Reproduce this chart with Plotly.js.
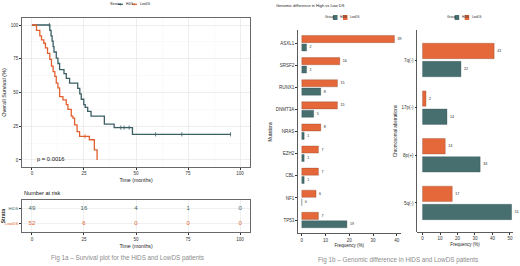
<!DOCTYPE html>
<html><head><meta charset="utf-8">
<script src="https://cdn.plot.ly/plotly-3.0.1.min.js"></script>
<style>html,body{margin:0;padding:0;background:#fff}#chart{width:520px;height:266px}</style>
</head><body><div id="chart"></div>
<script>
// ---- Survival data (Fig 1a) ----
const hidsTime  = [0, 8.6, 9.2, 9.7, 10.2, 10.6, 11.7, 12.5, 13.3, 15.4, 16.5, 18.1, 22.0, 23.0, 23.7, 24.9, 25.6, 26.8, 28.4, 34.8, 39.5, 48.3, 95.4];
const hidsSurv  = [100, 96, 92, 88, 84, 80, 75.5, 71.5, 67, 64, 60.5, 57, 53, 49, 45, 41, 39, 36, 32.5, 26.5, 24, 19, 19];
const lowdsTime = [0, 2.2, 3.8, 4.6, 5.7, 6.5, 7.5, 8.6, 9.4, 10.2, 11.0, 11.7, 12.5, 13.3, 14.9, 16.5, 17.3, 18.9, 19.7, 20.5, 21.7, 22.9, 27.6, 30.0, 31.3];
const lowdsSurv = [100, 96, 92, 89, 86.5, 83, 79, 74.5, 69.5, 65.5, 62, 57, 53.5, 47, 44.5, 41, 37.5, 32.5, 31, 26, 21, 17.5, 15, 7.5, 0];
const hidsCensorTime  = [8.4, 42.7, 44.3, 46.7, 59.4, 72.0, 95.4];
const hidsCensorSurv  = [100, 24, 24, 24, 19, 19, 19];
const lowdsCensorTime = [25.5];
const lowdsCensorSurv = [17.5];
const pValueText = 'p = 0.0016';

// ---- Number at risk ----
const riskTimes  = [0, 25, 50, 75, 100];
const riskHiDS   = [49, 16, 4, 1, 0];
const riskLowDS  = [52, 6, 0, 0, 0];
const strataLabels = ['HiDS', 'LowDS'];

// ---- Genomic difference (Fig 1b) ----
const mutGenes  = ['ASXL1', 'SRSF2', 'RUNX1', 'DNMT3A', 'NRAS', 'EZH2', 'CBL', 'NF1', 'TP53'];
const mutHiDS   = [2, 2, 8, 5, 1, 1, 1, 0, 19];
const mutLowDS  = [39, 16, 15, 15, 8, 7, 7, 6, 7];
const chromAb    = ['7q(-)', '17p(-)', '8p(+)', '5q(-)'];
const chromHiDS  = [22, 14, 33, 51];
const chromLowDS = [41, 2, 13, 17];

// ---- styles ----
const W = 520, H = 266;
const px = x => x / W, py = y => 1 - y / H;
const cHi = '#3b5f63', cLow = '#e2602f';
const barHi = '#476f70', barLow = '#e4683a';
const FONT = 'Liberation Sans, Arial, sans-serif';

const traces = [];
traces.push({x: hidsTime, y: hidsSurv, type: 'scatter', mode: 'lines', line: {shape: 'hv', color: cHi, width: 1.3}, xaxis: 'x', yaxis: 'y', hoverinfo: 'skip'});
traces.push({x: lowdsTime, y: lowdsSurv, type: 'scatter', mode: 'lines', line: {shape: 'hv', color: cLow, width: 1.3}, xaxis: 'x', yaxis: 'y', hoverinfo: 'skip'});
traces.push({x: hidsCensorTime, y: hidsCensorSurv, type: 'scatter', mode: 'markers', marker: {symbol: 'line-ns', size: 3, line: {color: cHi, width: 0.8}}, xaxis: 'x', yaxis: 'y'});
traces.push({x: lowdsCensorTime, y: lowdsCensorSurv, type: 'scatter', mode: 'markers', marker: {symbol: 'line-ns', size: 3, line: {color: cLow, width: 0.8}}, xaxis: 'x', yaxis: 'y'});
// risk table
traces.push({x: riskTimes, y: riskHiDS.map(() => 1), text: riskHiDS.map(String), mode: 'text', type: 'scatter', textfont: {size: 6, color: cHi, family: FONT}, xaxis: 'x2', yaxis: 'y2', cliponaxis: false});
traces.push({x: riskTimes, y: riskLowDS.map(() => 0), text: riskLowDS.map(String), mode: 'text', type: 'scatter', textfont: {size: 6, color: cLow, family: FONT}, xaxis: 'x2', yaxis: 'y2', cliponaxis: false});
// mutation bars (LowDS first -> drawn on top with reversed axis)
const barCommon = {type: 'bar', orientation: 'h', textposition: 'outside', cliponaxis: false, textfont: {size: 3.6, color: '#222', family: FONT}, hoverinfo: 'skip'};
traces.push(Object.assign({}, barCommon, {y: mutGenes, x: mutLowDS, text: mutLowDS.map(String), marker: {color: barLow, line: {color: '#7a3a20', width: 0.3}}, xaxis: 'x3', yaxis: 'y3'}));
traces.push(Object.assign({}, barCommon, {y: mutGenes, x: mutHiDS, text: mutHiDS.map(String), marker: {color: barHi, line: {color: '#2a4446', width: 0.3}}, xaxis: 'x3', yaxis: 'y3'}));
traces.push(Object.assign({}, barCommon, {y: chromAb, x: chromLowDS, text: chromLowDS.map(String), marker: {color: barLow, line: {color: '#7a3a20', width: 0.3}}, xaxis: 'x4', yaxis: 'y4'}));
traces.push(Object.assign({}, barCommon, {y: chromAb, x: chromHiDS, text: chromHiDS.map(String), marker: {color: barHi, line: {color: '#2a4446', width: 0.3}}, xaxis: 'x4', yaxis: 'y4'}));

const tickF = {size: 4.5, color: '#333', family: FONT};
const gridC = '#e6e6e6';

const layout = {
  width: W, height: H, margin: {l: 0, r: 0, t: 0, b: 0},
  paper_bgcolor: '#fff', plot_bgcolor: '#fff', showlegend: false,
  font: {family: FONT, color: '#222'},
  barmode: 'group', bargap: 0.24, bargroupgap: 0.15,
  xaxis: {domain: [px(22), px(250)], range: [-4.76, 104.76], tickvals: [0, 25, 50, 75, 100], ticks: 'outside', ticklen: 2, tickcolor: '#333', tickfont: tickF,
          showgrid: true, gridcolor: gridC, gridwidth: 0.6, minor: {dtick: 12.5, tick0: 0, showgrid: true, gridcolor: '#f2f2f2', gridwidth: 0.4},
          zeroline: false, showline: true, mirror: true, linecolor: '#444', linewidth: 0.8, anchor: 'y',
          title: {text: 'Time (months)', font: {size: 5.2, color: '#222'}, standoff: 3}},
  yaxis: {domain: [py(167), py(18)], range: [-5.2, 105.2], tickvals: [0, 25, 50, 75, 100], ticks: 'outside', ticklen: 2, tickcolor: '#333', tickfont: tickF,
          showgrid: true, gridcolor: gridC, gridwidth: 0.6, minor: {dtick: 12.5, tick0: 0, showgrid: true, gridcolor: '#f2f2f2', gridwidth: 0.4},
          zeroline: false, showline: true, mirror: true, linecolor: '#444', linewidth: 0.8, anchor: 'x',
          title: {text: 'Overall Survival (%)', font: {size: 5.5, color: '#222'}, standoff: 3}},
  xaxis2: {domain: [px(22), px(250)], range: [-4.76, 104.76], tickvals: [0, 25, 50, 75, 100], ticks: 'outside', ticklen: 2, tickcolor: '#333', tickfont: tickF,
          showgrid: true, gridcolor: gridC, gridwidth: 0.6, zeroline: false, showline: true, mirror: true, linecolor: '#444', linewidth: 0.8, anchor: 'y2',
          title: {text: 'Time (months)', font: {size: 5.2, color: '#222'}, standoff: 3}},
  yaxis2: {domain: [py(232.3), py(200)], range: [-0.6, 1.6], tickvals: [0, 1],
          ticktext: ['<span style="color:' + cLow + '">' + strataLabels[1] + '</span>', '<span style="color:' + cHi + '">' + strataLabels[0] + '</span>'],
          ticks: 'outside', ticklen: 2, tickcolor: '#333', tickfont: {size: 4.2, family: FONT},
          showgrid: true, gridcolor: gridC, gridwidth: 0.6, zeroline: false, showline: true, mirror: true, linecolor: '#444', linewidth: 0.8, anchor: 'x2',
          title: {text: '<b>Strata</b>', font: {size: 5, color: '#222'}, standoff: 2}},
  xaxis3: {domain: [px(298), px(400.6)], range: [-1.6, 41.6], tickvals: [0, 10, 20, 30, 40], ticks: 'outside', ticklen: 2, tickcolor: '#333', tickfont: tickF,
          showgrid: false, zeroline: false, showline: true, linecolor: '#333', linewidth: 0.8, anchor: 'y3',
          title: {text: 'Frequency (%)', font: {size: 4.5, color: '#222'}, standoff: 2}},
  yaxis3: {domain: [py(233.3), py(30)], type: 'category', categoryorder: 'array', categoryarray: mutGenes, range: [8.6, -0.6],
          ticks: 'outside', ticklen: 2, tickcolor: '#333', tickfont: tickF, showgrid: false, zeroline: false, showline: true, linecolor: '#333', linewidth: 0.8, anchor: 'x3',
          title: {text: 'Mutations', font: {size: 4.5, color: '#222'}, standoff: 3}},
  xaxis4: {domain: [px(417.3), px(512.5)], range: [-3, 51.5], tickvals: [0, 10, 20, 30, 40, 50], ticks: 'outside', ticklen: 2, tickcolor: '#333', tickfont: tickF,
          showgrid: false, zeroline: false, showline: true, linecolor: '#333', linewidth: 0.8, anchor: 'y4',
          title: {text: 'Frequency (%)', font: {size: 4.5, color: '#222'}, standoff: 2}},
  yaxis4: {domain: [py(232), py(30)], type: 'category', categoryorder: 'array', categoryarray: chromAb, range: [3.61, -0.63],
          ticks: 'outside', ticklen: 2, tickcolor: '#333', tickfont: tickF, showgrid: false, zeroline: false, showline: true, linecolor: '#333', linewidth: 0.8, anchor: 'x4',
          title: {text: 'Chromosomal aberrations', font: {size: 4.5, color: '#222'}, standoff: 3}},
  shapes: [
    // survival legend glyphs
    {type: 'line', xref: 'paper', yref: 'paper', x0: px(118), x1: px(123), y0: py(4.3), y1: py(4.3), line: {color: cHi, width: 1.2}},
    {type: 'line', xref: 'paper', yref: 'paper', x0: px(120.5), x1: px(120.5), y0: py(3), y1: py(5.6), line: {color: cHi, width: 0.6}},
    {type: 'line', xref: 'paper', yref: 'paper', x0: px(132), x1: px(137), y0: py(4.3), y1: py(4.3), line: {color: cLow, width: 1.2}},
    {type: 'line', xref: 'paper', yref: 'paper', x0: px(134.5), x1: px(134.5), y0: py(3), y1: py(5.6), line: {color: cLow, width: 0.6}},
    // bar legends
    {type: 'rect', xref: 'paper', yref: 'paper', x0: px(333), x1: px(337.5), y0: py(15), y1: py(20), fillcolor: barHi, line: {width: 0}},
    {type: 'rect', xref: 'paper', yref: 'paper', x0: px(343), x1: px(347.5), y0: py(15), y1: py(20), fillcolor: barLow, line: {width: 0}},
    {type: 'rect', xref: 'paper', yref: 'paper', x0: px(454.7), x1: px(459.2), y0: py(15), y1: py(20), fillcolor: barHi, line: {width: 0}},
    {type: 'rect', xref: 'paper', yref: 'paper', x0: px(464.7), x1: px(469.2), y0: py(15), y1: py(20), fillcolor: barLow, line: {width: 0}}
  ],
  annotations: [
    {xref: 'paper', yref: 'paper', x: px(107.5), y: py(4.3), text: 'Strata', showarrow: false, xanchor: 'left', yanchor: 'middle', font: {size: 3.7, color: '#222'}},
    {xref: 'paper', yref: 'paper', x: px(123.8), y: py(4.3), text: 'HiDS', showarrow: false, xanchor: 'left', yanchor: 'middle', font: {size: 3.1, color: '#222'}},
    {xref: 'paper', yref: 'paper', x: px(137.8), y: py(4.3), text: 'LowDS', showarrow: false, xanchor: 'left', yanchor: 'middle', font: {size: 3.1, color: '#222'}},
    {xref: 'x', yref: 'y', x: 1.5, y: 0.5, text: pValueText, showarrow: false, xanchor: 'left', yanchor: 'middle', font: {size: 5.8, color: '#111'}},
    {xref: 'paper', yref: 'paper', x: px(22), y: py(193), text: 'Number at risk', showarrow: false, xanchor: 'left', yanchor: 'middle', font: {size: 5.6, color: '#111'}},
    {xref: 'paper', yref: 'paper', x: px(127), y: py(258), text: 'Fig 1a \u2013 Survival plot for the HiDS and LowDS patients', showarrow: false, xanchor: 'center', yanchor: 'middle', font: {size: 6.3, color: '#8c8c8c'}},
    {xref: 'paper', yref: 'paper', x: px(274), y: py(5), text: 'Genomic difference in High vs Low DS', showarrow: false, xanchor: 'left', yanchor: 'middle', font: {size: 4, color: '#222'}},
    {xref: 'paper', yref: 'paper', x: px(323.3), y: py(17.5), text: 'Group', showarrow: false, xanchor: 'left', yanchor: 'middle', font: {size: 3.3, color: '#222'}},
    {xref: 'paper', yref: 'paper', x: px(337.9), y: py(17.5), text: 'HiDS', showarrow: false, xanchor: 'left', yanchor: 'middle', font: {size: 2.9, color: '#222'}},
    {xref: 'paper', yref: 'paper', x: px(347.9), y: py(17.5), text: 'LowDS', showarrow: false, xanchor: 'left', yanchor: 'middle', font: {size: 2.9, color: '#222'}},
    {xref: 'paper', yref: 'paper', x: px(445), y: py(17.5), text: 'Group', showarrow: false, xanchor: 'left', yanchor: 'middle', font: {size: 3.3, color: '#222'}},
    {xref: 'paper', yref: 'paper', x: px(459.6), y: py(17.5), text: 'HiDS', showarrow: false, xanchor: 'left', yanchor: 'middle', font: {size: 2.9, color: '#222'}},
    {xref: 'paper', yref: 'paper', x: px(469.6), y: py(17.5), text: 'LowDS', showarrow: false, xanchor: 'left', yanchor: 'middle', font: {size: 2.9, color: '#222'}},
    {xref: 'paper', yref: 'paper', x: px(397.5), y: py(259.5), text: 'Fig 1b \u2013 Genomic difference in HiDS and LowDS patients', showarrow: false, xanchor: 'center', yanchor: 'middle', font: {size: 6.3, color: '#8c8c8c'}}
  ]
};

Plotly.newPlot('chart', traces, layout, {displayModeBar: false, staticPlot: true});
</script>
</body></html>
